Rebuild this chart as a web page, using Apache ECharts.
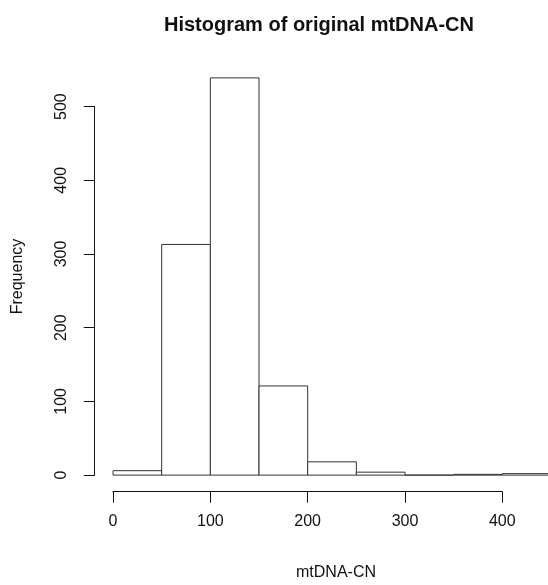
<!DOCTYPE html>
<html>
<head>
<meta charset="utf-8">
<script src="https://cdn.jsdelivr.net/npm/echarts@6/dist/echarts.min.js"></script>
<style>
  html, body { margin: 0; padding: 0; background: #fff; }
  #chart { width: 548px; height: 585px; }
</style>
</head>
<body>
<div id="chart"></div>
<script>
// histogram bins (mtDNA-CN) and their counts
const binStarts = [0, 50, 100, 150, 200, 250, 300, 350, 400];
const binEnds = [50, 100, 150, 200, 250, 300, 350, 400, 450];
const counts = [6, 313, 539, 121, 18, 4, 0, 1, 2];
const xTicks = [0, 100, 200, 300, 400];
const yTicks = [0, 100, 200, 300, 400, 500];

const font = 'Liberation Sans, Arial, sans-serif';
const ink = '#111';

const chart = echarts.init(document.getElementById('chart'));

// R style plot region, cut at the right edge of the picture
const xMin = -18, xMax = 446.9;
const yMin = -0.04 * 539, yMax = 539 * 1.04;

const option = {
  animation: false,
  backgroundColor: '#fff',
  title: [
    {
      text: 'Histogram of original mtDNA-CN',
      left: 314,
      top: 10,
      textAlign: 'center',
      textStyle: { fontFamily: font, fontSize: 20, fontWeight: 'bold', color: ink }
    },
    {
      text: 'mtDNA-CN',
      left: 331,
      top: 560,
      textAlign: 'center',
      textStyle: { fontFamily: font, fontSize: 16, fontWeight: 'normal', color: ink }
    }
  ],
  grid: [
    // data region
    { left: 95.5, top: 62, width: 452.5, height: 429 },
    // x axis (0..400)
    { left: 113, top: 62, width: 389.3, height: 429.7 },
    // y axis (0..500)
    { left: 94.7, top: 106.6, width: 10, height: 368.5 }
  ],
  xAxis: [
    {
      gridIndex: 0, type: 'value', min: xMin, max: xMax,
      axisLine: { show: false }, axisTick: { show: false },
      axisLabel: { show: false }, splitLine: { show: false }
    },
    {
      gridIndex: 1, type: 'value', min: 0, max: 400, interval: 100,
      axisLine: { lineStyle: { color: ink, width: 1 } },
      axisTick: { length: 11, lineStyle: { color: ink } },
      axisLabel: {
        margin: 22, fontFamily: font, fontSize: 16, color: ink,
        formatter: v => xTicks.includes(v) ? String(v) : ''
      },
      splitLine: { show: false }
    },
    {
      gridIndex: 2, type: 'value', show: false
    }
  ],
  yAxis: [
    {
      gridIndex: 0, type: 'value', min: yMin, max: yMax,
      axisLine: { show: false }, axisTick: { show: false },
      axisLabel: { show: false }, splitLine: { show: false },
      name: 'Frequency', nameLocation: 'middle', nameGap: 70,
      nameTextStyle: { fontFamily: font, fontSize: 16, color: ink }
    },
    {
      gridIndex: 1, type: 'value', show: false
    },
    {
      gridIndex: 2, type: 'value', min: 0, max: 500, interval: 100,
      axisLine: { show: true, lineStyle: { color: ink, width: 1 } },
      axisTick: { show: true, length: 11, lineStyle: { color: ink } },
      axisLabel: {
        rotate: 90, margin: 25, fontFamily: font, fontSize: 16, color: ink,
        formatter: v => yTicks.includes(v) ? String(v) : ''
      },
      splitLine: { show: false }
    }
  ],
  series: [
    {
      type: 'custom',
      xAxisIndex: 0,
      yAxisIndex: 0,
      clip: false,
      data: counts.map((c, i) => [binStarts[i], binEnds[i], c]),
      renderItem: function (params, api) {
        const topLeft = api.coord([api.value(0), api.value(2)]);
        const bottomRight = api.coord([api.value(1), 0]);
        return {
          type: 'rect',
          shape: {
            x: topLeft[0],
            y: topLeft[1],
            width: bottomRight[0] - topLeft[0],
            height: bottomRight[1] - topLeft[1]
          },
          style: { fill: '#fff', stroke: '#333', lineWidth: 1 }
        };
      }
    }
  ]
};

chart.setOption(option);
</script>
</body>
</html>
